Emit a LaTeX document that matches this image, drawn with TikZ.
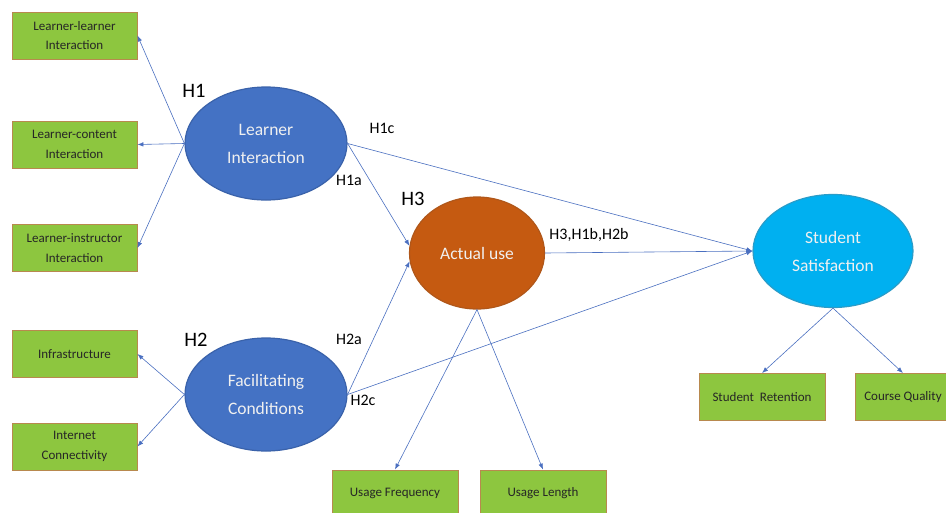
\documentclass[tikz,border=0pt]{standalone}
\usepackage{fontspec}
\setmainfont{Carlito}
\usetikzlibrary{shapes.geometric, arrows.meta, positioning}
\definecolor{constructblue}{HTML}{4472C4}
\definecolor{constructedge}{HTML}{3A62AA}
\definecolor{useorange}{HTML}{C55A11}
\definecolor{useedge}{HTML}{B0571A}
\definecolor{satblue}{HTML}{00B0F0}
\definecolor{satedge}{HTML}{2A9CC8}
\definecolor{itemgreen}{HTML}{8DC63F}
\definecolor{itemedge}{HTML}{B8894E}
\definecolor{linkblue}{HTML}{4A6FC0}

\tikzset{
  itembox/.style={draw=itemedge, fill=itemgreen, line width=0.9pt, minimum width=125pt,
        minimum height=47pt, inner sep=2pt, align=center, text=black!85,
        font=\fontsize{13}{19.5}\selectfont},
  construct/.style={ellipse, draw=constructedge, fill=constructblue, line width=1.2pt,
        minimum width=162pt, minimum height=113pt, inner sep=0pt, align=center,
        text=white!94!black, font=\fontsize{17.5}{28}\selectfont},
  link/.style={draw=linkblue, line width=0.6pt, -{Latex[length=6pt,width=4.5pt]}},
  hyp/.style={font=\fontsize{16}{18}\selectfont, text=black},
  hypbig/.style={font=\fontsize{20.5}{22}\selectfont, text=black}
}

\begin{document}
\begin{tikzpicture}[x=1pt,y=-1pt]
  \useasboundingbox (0,0) rectangle (946,512);

  \node[construct] (li) at (266,143.5) {Learner\\Interaction};
  \node[construct] (fc) at (266,394.5) {Facilitating\\Conditions};
  \node[construct, draw=useedge, fill=useorange, minimum width=135pt,
        minimum height=112pt] (au) at (477,253) {Actual use};
  \node[construct, draw=satedge, fill=satblue, minimum width=160pt] (ss) at (833,251)
        {Student\\Satisfaction};

  \node[itembox] (ll) at (74.5,35.5) {Learner-learner\\Interaction};
  \node[itembox] (lc) at (74.5,144.5) {Learner-content\\Interaction};
  \node[itembox] (lr) at (74.5,248) {Learner-instructor\\Interaction};
  \node[itembox] (inf) at (74.5,354) {Infrastructure};
  \node[itembox] (ic) at (74.5,446.5) {Internet\\Connectivity};
  \node[itembox, minimum width=126pt] (uf) at (395,493.5) {Usage Frequency};
  \node[itembox, minimum width=126pt] (ul) at (543,493.5) {Usage Length};
  \node[itembox, minimum width=126pt] (sr) at (762,397) {Student\ \ Retention};
  \node[itembox, minimum width=96pt] (cq) at (903,397) {Course Quality};

  \draw[link] (li.west) -- (ll.east);
  \draw[link] (li.west) -- (lc.east);
  \draw[link] (li.west) -- (lr.east);
  \draw[link] (fc.west) -- (inf.east);
  \draw[link] (fc.west) -- (ic.east);

  \draw[link] (li.east) -- (au.174);
  \draw[link] (li.east) -- (ss.west);
  \draw[link] (fc.east) -- (au.187);
  \draw[link] (fc.east) -- (ss.west);
  \draw[link] (au.east) -- (ss.west);

  \draw[link] (au.south) -- (uf.north);
  \draw[link] (au.south) -- (ul.north);
  \draw[link] (ss.south) -- (sr.north);
  \draw[link] (ss.south) -- (cq.north);

  \node[hypbig] (h1) at (194,91) {H1};
  \node[hypbig] (h2) at (196,340) {H2};
  \node[hypbig] (h3) at (413,199) {H3};
  \node[hyp] (h1c) at (382,128) {H1c};
  \node[hyp] (h1a) at (349,180) {H1a};
  \node[hyp] (h2a) at (349,339) {H2a};
  \node[hyp] (h2c) at (363,400) {H2c};
  \node[hyp] (h3b) at (589,235) {H3,H1b,H2b};
\end{tikzpicture}
\end{document}
